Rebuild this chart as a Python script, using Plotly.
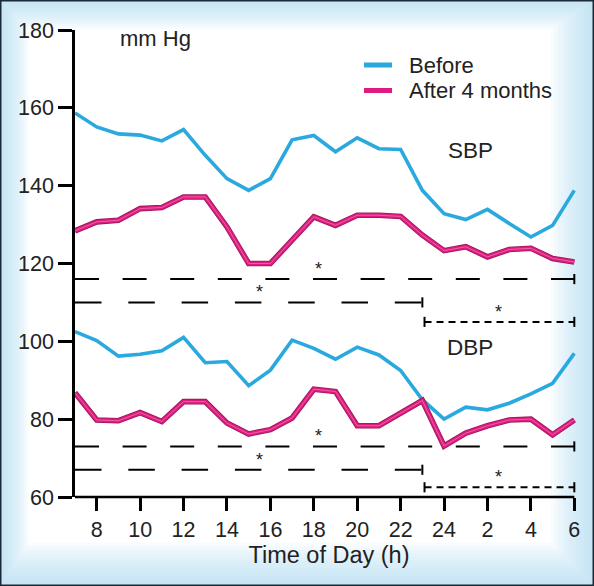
import plotly.graph_objects as go

# ---------------- data ----------------
hours = list(range(7, 31))  # 7 h .. 30 h (= 6 h next day)
tick_vals = [8, 10, 12, 14, 16, 18, 20, 22, 24, 26, 28, 30]
tick_text = ["8", "10", "12", "14", "16", "18", "20", "22", "24", "2", "4", "6"]
y_ticks = [60, 80, 100, 120, 140, 160, 180]

sbp_before = [158.7, 155.1, 153.3, 153.0, 151.5, 154.4, 147.8, 141.8, 138.8, 141.8, 151.8, 152.9,
              148.7, 152.3, 149.5, 149.3, 138.8, 132.8, 131.3, 133.9, 130.3, 126.8, 129.8, 138.8]
sbp_after = [128.4, 130.7, 131.1, 134.1, 134.4, 137.1, 137.1, 129.4, 120.0, 120.0, 126.0, 132.0,
             129.8, 132.4, 132.4, 132.1, 127.3, 123.3, 124.3, 121.7, 123.6, 123.9, 121.3, 120.4]
dbp_before = [102.5, 100.2, 96.2, 96.7, 97.6, 101.0, 94.5, 94.8, 88.6, 92.6, 100.3, 98.2,
              95.4, 98.5, 96.5, 92.5, 85.0, 80.0, 83.1, 82.4, 84.1, 86.5, 89.2, 96.9]
dbp_after = [86.8, 79.8, 79.6, 81.7, 79.4, 84.5, 84.5, 79.0, 76.2, 77.3, 80.3, 87.7,
             87.1, 78.3, 78.3, 81.5, 84.8, 73.1, 76.4, 78.3, 79.8, 80.0, 76.0, 79.8]

# significance bars (* p<0.05): level, start hour, end hour, star hour
sig_level = [116.0, 110.0, 105.0, 73.0, 67.0, 62.5]
sig_start = [7, 7, 23.1, 7, 7, 23.1]
sig_end = [30, 23, 30, 30, 23, 30]
sig_star = [18.2, 15.5, 26.5, 18.2, 15.5, 26.5]
sig_kind = ["long", "mid", "short", "long", "mid", "short"]

legend_names = ["Before", "After 4 months"]

# ---------------- styling ----------------
BLUE = "#2aa9df"
PINK = "#de1c80"
PINK_DARK = "#9a1756"
TXT = "#222222"
FONT = "Liberation Sans, Arial, sans-serif"
dash_styles = {"long": "24px,23.6px", "mid": "26.5px,26.8px", "short": "7px,5px"}

W, H = 594, 586
ML, MR, MT, MB = 75, 11, 30, 89
X_RANGE = [7, 30.4]
Y_RANGE = [60, 180]
PW = W - ML - MR
PH = H - MT - MB


def px_to_paper_x(px):
    return (px - ML) / PW


def px_to_paper_y(py):
    return (H - MB - py) / PH


def rect_path(l, t, r, b):
    x0, x1 = px_to_paper_x(l), px_to_paper_x(r)
    y0, y1 = px_to_paper_y(b), px_to_paper_y(t)
    return f"M{x0},{y0} L{x1},{y0} L{x1},{y1} L{x0},{y1} Z"


fig = go.Figure()

# blue "before" lines
for ys in [sbp_before, dbp_before]:
    fig.add_trace(go.Scatter(x=hours, y=ys, mode="lines", name="Before", showlegend=False,
                             line=dict(color=BLUE, width=3.6)))
# pink "after" lines with dark glossy edge
for ys in [sbp_after, dbp_after]:
    fig.add_trace(go.Scatter(x=hours, y=ys, mode="lines", showlegend=False, hoverinfo="skip",
                             line=dict(color=PINK_DARK, width=5.6)))
    fig.add_trace(go.Scatter(x=hours, y=ys, mode="lines", name="After 4 months", showlegend=False,
                             line=dict(color=PINK, width=4.0)))
    fig.add_trace(go.Scatter(x=hours, y=ys, mode="lines", showlegend=False, hoverinfo="skip",
                             line=dict(color="rgba(245,140,190,0.6)", width=1)))

# significance bars
cap_half = 1.3
for lev, x0, x1, xs, kind in zip(sig_level, sig_start, sig_end, sig_star, sig_kind):
    fig.add_trace(go.Scatter(x=[x0, x1], y=[lev, lev], mode="lines", showlegend=False,
                             hoverinfo="skip",
                             line=dict(color="black", width=2, dash=dash_styles[kind])))
    caps = [x1] if x0 == hours[0] else [x0, x1]
    for cx in caps:
        fig.add_trace(go.Scatter(x=[cx, cx], y=[lev - cap_half, lev + cap_half], mode="lines",
                                 showlegend=False, hoverinfo="skip",
                                 line=dict(color="black", width=2)))
    fig.add_annotation(x=xs, y=lev, text="*", showarrow=False, xref="x", yref="y",
                       yanchor="bottom", yshift=-2, font=dict(size=18, color=TXT, family=FONT))

# text labels
fig.add_annotation(x=10.7, y=177.8, text="mm Hg", showarrow=False,
                   font=dict(size=22, color=TXT, family=FONT))
fig.add_annotation(x=25.2, y=149.1, text="SBP", showarrow=False,
                   font=dict(size=22.5, color=TXT, family=FONT))
fig.add_annotation(x=25.2, y=98.3, text="DBP", showarrow=False,
                   font=dict(size=22.5, color=TXT, family=FONT))

shapes = []
# soft blue vignette towards the frame edges (ring shaped bands)
outer = rect_path(0, 0, W, H)
for k in range(1, 13):
    s = k * 3.0
    inner = rect_path(s * 0.8, s * 0.8, W - s * 1.2, H - s * 1.2)
    shapes.append(dict(type="path", xref="paper", yref="paper", layer="below",
                       path=outer + " " + inner, fillrule="evenodd",
                       line=dict(width=0), fillcolor="rgba(175,215,242,0.085)"))
# dark frame
shapes.append(dict(type="rect", xref="paper", yref="paper", layer="above",
                   x0=px_to_paper_x(0.75), x1=px_to_paper_x(W - 0.75),
                   y0=px_to_paper_y(H - 0.75), y1=px_to_paper_y(0.75),
                   line=dict(width=1.5, color="#1b2a38"), fillcolor="rgba(0,0,0,0)"))
# x axis line from 7 h to 6 h
shapes.append(dict(type="line", xref="paper", yref="paper", layer="above",
                   x0=0, x1=(30 - X_RANGE[0]) / (X_RANGE[1] - X_RANGE[0]), y0=0, y1=0,
                   line=dict(width=2.5, color="black")))

# custom legend
for name, col, ly in zip(legend_names, [BLUE, PINK], [65, 90.5]):
    shapes.append(dict(type="line", xref="paper", yref="paper", layer="above",
                       x0=px_to_paper_x(364), x1=px_to_paper_x(392),
                       y0=px_to_paper_y(ly), y1=px_to_paper_y(ly),
                       line=dict(width=5, color=col)))
    fig.add_annotation(x=px_to_paper_x(407), y=px_to_paper_y(ly), xref="paper", yref="paper",
                       text=name, showarrow=False, xanchor="left", yanchor="middle",
                       font=dict(size=22, color=TXT, family=FONT))

fig.update_layout(
    width=W, height=H,
    margin=dict(l=ML, r=MR, t=MT, b=MB),
    paper_bgcolor="white", plot_bgcolor="rgba(0,0,0,0)",
    shapes=shapes,
    showlegend=False,
    font=dict(family=FONT, color=TXT, size=21),
    xaxis=dict(range=X_RANGE, showgrid=False, zeroline=False, showline=False,
               tickvals=tick_vals, ticktext=tick_text, ticks="outside", ticklen=13,
               tickwidth=2.5, tickcolor="black", tickfont=dict(size=21.5, color=TXT, family=FONT),
               title=dict(text="Time of Day (h)", font=dict(size=23.5, color=TXT, family=FONT),
                          standoff=4)),
    yaxis=dict(range=Y_RANGE, showgrid=False, zeroline=False, showline=True, linewidth=2.5,
               linecolor="black", tickvals=y_ticks, ticks="outside", ticklen=14, tickwidth=2.5,
               tickcolor="black", tickfont=dict(size=21.5, color=TXT, family=FONT)),
)

fig.write_html("out.html", config={"displayModeBar": False},
               post_script="document.body.style.margin='0px';")
